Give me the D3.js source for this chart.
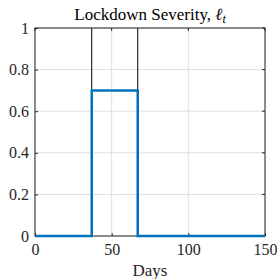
<!DOCTYPE html>
<html><head><meta charset="utf-8">
<script src="https://cdn.jsdelivr.net/npm/d3@7"></script>
<style>body{margin:0;background:#fff;} text{font-family:"Liberation Serif","DejaVu Serif",serif;}</style>
</head><body><svg id="c" width="277" height="279"></svg>
<script>
const days = [0, 37, 37, 67, 67, 150];
const severity = [0, 0, 0.7, 0.7, 0, 0];
const markerDays = [37, 67];
const xTicks = [0, 50, 100, 150];
const yTicks = [0, 0.2, 0.4, 0.6, 0.8, 1];
const title = "Lockdown Severity, ";
const xLabel = "Days";

const svg = d3.select("#c");
const m = {l:35, r:12, t:28, b:43};
const W = 277, H = 279;
const x = d3.scaleLinear().domain([0,150]).range([m.l, W-m.r]);
const y = d3.scaleLinear().domain([0,1]).range([H-m.b, m.t]);

// grid
svg.append("g").selectAll("line").data(xTicks).join("line")
  .attr("x1", d=>x(d)).attr("x2", d=>x(d)).attr("y1", y(0)).attr("y2", y(1))
  .attr("stroke", "#dfdfdf").attr("stroke-width", 1);
svg.append("g").selectAll("line").data(yTicks).join("line")
  .attr("y1", d=>y(d)).attr("y2", d=>y(d)).attr("x1", x(0)).attr("x2", x(150))
  .attr("stroke", "#dfdfdf").attr("stroke-width", 1);

// marker lines
svg.append("g").selectAll("line").data(markerDays).join("line")
  .attr("x1", d=>x(d)).attr("x2", d=>x(d)).attr("y1", y(0)).attr("y2", y(1))
  .attr("stroke", "#000").attr("stroke-width", 1);

// axes
const xa = svg.append("g").attr("transform", `translate(0,${y(0)})`)
  .call(d3.axisBottom(x).tickValues(xTicks).tickSize(-3).tickPadding(8).tickFormat(d3.format("d")));
const ya = svg.append("g").attr("transform", `translate(${x(0)},0)`)
  .call(d3.axisLeft(y).tickValues(yTicks).tickSize(-3).tickPadding(6).tickFormat(d=>String(d)));
[xa, ya].forEach(a=>{
  a.select(".domain").remove();
  a.selectAll(".tick line").attr("stroke","#262626");
  a.selectAll("text").attr("fill","#262626").style("font-size","16px");
});
// top/right ticks
svg.append("g").selectAll("line").data(xTicks).join("line")
  .attr("x1", d=>x(d)).attr("x2", d=>x(d)).attr("y1", y(1)).attr("y2", y(1)+3).attr("stroke","#262626");
svg.append("g").selectAll("line").data(yTicks).join("line")
  .attr("y1", d=>y(d)).attr("y2", d=>y(d)).attr("x1", x(150)).attr("x2", x(150)-3).attr("stroke","#262626");

// box
svg.append("rect").attr("x", x(0)).attr("y", y(1)).attr("width", x(150)-x(0)).attr("height", y(0)-y(1))
  .attr("fill","none").attr("stroke","#262626").attr("stroke-width",1);

// series
const line = d3.line().x((d,i)=>x(days[i])).y((d,i)=>y(severity[i]));
svg.append("path").datum(severity).attr("d", line).attr("fill","none")
  .attr("stroke","#0072BD").attr("stroke-width",2.5);

// title
const t = svg.append("text").attr("x", (x(0)+x(150))/2).attr("y", 20).attr("text-anchor","middle")
  .style("font-size","17px").attr("fill","#000");
t.append("tspan").text(title);
t.append("tspan").style("font-style","italic").text("ℓ");
t.append("tspan").style("font-style","italic").style("font-size","12px").attr("dy", 3).text("t");

svg.append("text").attr("x", (x(0)+x(150))/2).attr("y", 276).attr("text-anchor","middle")
  .style("font-size","17px").attr("fill","#262626").text(xLabel);
</script></body></html>
